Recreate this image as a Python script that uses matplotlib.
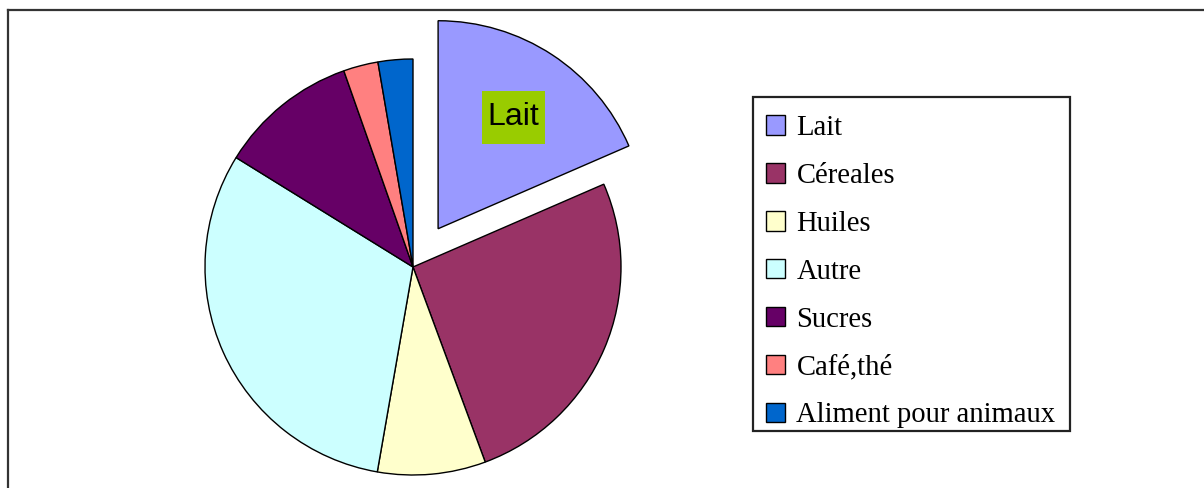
import matplotlib
matplotlib.use("Agg")
import matplotlib.pyplot as plt
from matplotlib.patches import Patch, Rectangle
from matplotlib.lines import Line2D
import numpy as np

# Data
categories = ["Lait", "Céreales", "Huiles", "Autre", "Sucres", "Café,thé", "Aliment pour animaux"]
shares = [18.5, 25.9, 8.4, 31.1, 10.8, 2.7, 2.7]
colors = ["#9999FF", "#993366", "#FFFFCC", "#CCFFFF", "#660066", "#FF8080", "#0066CC"]
explode = [0.22, 0, 0, 0, 0, 0, 0]

W, H = 1204, 488
fig = plt.figure(figsize=(W / 100, H / 100), dpi=100)
fig.patch.set_facecolor("white")

# pie axes: centre at (413, 267) px from top-left, radius ~211 px
cx, cy, r_px = 413, 267, 211
half = 260
ax = fig.add_axes([(cx - half) / W, (H - cy - half) / H, 2 * half / W, 2 * half / H])
lim = half / r_px
ax.set_xlim(-lim, lim)
ax.set_ylim(-lim, lim)
ax.set_aspect("equal")
ax.axis("off")

wedges, _ = ax.pie(shares, colors=colors, explode=explode, startangle=90,
                   counterclock=False, radius=1.0,
                   wedgeprops=dict(edgecolor="black", linewidth=1.0))
for w in wedges:
    w.set_clip_on(False)

# label inside the exploded slice, on a green box
w0 = wedges[0]
mid = np.deg2rad((w0.theta1 + w0.theta2) / 2)
x0, y0 = w0.center
lx = x0 + 0.66 * np.cos(mid)
ly = y0 + 0.64 * np.sin(mid)
bw, bh = 64 / r_px, 54 / r_px
ax.add_patch(Rectangle((lx - bw / 2, ly - bh / 2), bw, bh, facecolor="#99CC00",
                       edgecolor="none", zorder=5))
ax.text(lx, ly, categories[0], ha="center", va="center", fontsize=23,
        family="Liberation Sans", zorder=6)

# legend box drawn separately so its padding matches the original
fig.add_artist(Rectangle((753 / W, 1 - 431 / H), (1070 - 753) / W, (431 - 97) / H,
                         transform=fig.transFigure, facecolor="white",
                         edgecolor="#222222", linewidth=1.6))
handles = [Patch(facecolor=c, edgecolor="black", linewidth=1.0) for c in colors]
leg = fig.legend(handles, categories, loc="upper left",
                 bbox_to_anchor=(749 / W, 1 - 98 / H), borderaxespad=0,
                 prop=dict(family="Liberation Serif", size=20.6),
                 handlelength=0.66, handleheight=0.66, handletextpad=0.4,
                 labelspacing=0.765, borderpad=0.6, frameon=False)

# outer frame (only top and left edges visible)
fig.add_artist(Line2D([8 / W, 1], [1 - 10 / H, 1 - 10 / H], color="#333333", linewidth=1.6))
fig.add_artist(Line2D([8 / W, 8 / W], [0, 1 - 10 / H], color="#333333", linewidth=1.6))

fig.savefig("out.png", dpi=100, facecolor="white")
